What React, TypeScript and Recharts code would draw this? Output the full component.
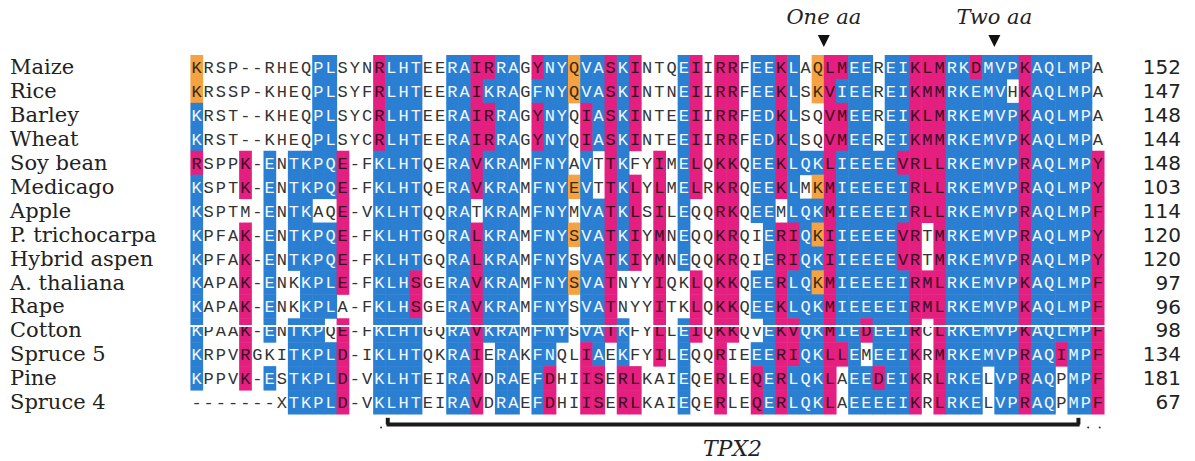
import { ScatterChart, Scatter, XAxis, YAxis, ReferenceLine, ReferenceDot } from 'recharts';

// alignment rows, top to bottom
const species = [
  'Maize', 'Rice', 'Barley', 'Wheat', 'Soy bean', 'Medicago', 'Apple', 'P. trichocarpa',
  'Hybrid aspen', 'A. thaliana', 'Rape', 'Cotton', 'Spruce 5', 'Pine', 'Spruce 4',
];

const lengths = [152, 147, 148, 144, 148, 103, 114, 120, 120, 97, 96, 98, 134, 181, 67];

// residues, 75 columns per row (written in blocks of ten)
const sequences = [
  ['KRSP--RHEQ', 'PLSYNRLHTE', 'ERAIRRAGYN', 'YQVASKINTQ', 'EIIRRFEEKL', 'AQLMEEREIK', 'LMRKDMVPKA', 'QLMPA'],
  ['KRSSP-KHEQ', 'PLSYFRLHTE', 'ERAIKRAGFN', 'YQVASKINTN', 'EIIRRFEEKL', 'SKVIEEREIK', 'MMRKEMVHKA', 'QLMPA'],
  ['KRST--KHEQ', 'PLSYCRLHTE', 'ERAIRRAGYN', 'YQIASKINTE', 'EIIRRFEDKL', 'SQVMEEREIK', 'LMRKEMVPKA', 'QLMPA'],
  ['KRST--KHEQ', 'PLSYCRLHTE', 'ERAIRRAGYN', 'YQIASKINTE', 'EIIRRFEDKL', 'SQVMEEREIK', 'MMRKEMVPKA', 'QLMPA'],
  ['RSPPK-ENTK', 'PQE-FKLHTQ', 'ERAVKRAMFN', 'YAVTTKFYIM', 'ELQKKQEEKL', 'QKLIEEEEVR', 'LLRKEMVPRA', 'QLMPY'],
  ['KSPTK-ENTK', 'PQE-FKLHTQ', 'ERAVKRAMFN', 'YEVTTKLYLM', 'ELRKRQEEKL', 'MKMIEEEEIR', 'LLRKEMVPRA', 'QLMPY'],
  ['KSPTM-ENTK', 'AQE-VKLHTQ', 'QRATKRAMFN', 'YMVATKLSIL', 'EQQRKQEEML', 'QKMIEEEEIR', 'LLRKEMVPRA', 'QLMPF'],
  ['KPFAK-ENTK', 'PQE-FKLHTG', 'QRALKRAMFN', 'YSVATKIYMN', 'EQQKRQIERI', 'QKIIEEEEVR', 'TMRKEMVPRA', 'QLMPY'],
  ['KPFAK-ENTK', 'PQE-FKLHTG', 'QRALKRAMFN', 'YSVATKIYMN', 'EQQKRQIERI', 'QKIIEEEEVR', 'TMRKEMVPRA', 'QLMPY'],
  ['KAPAK-ENKK', 'PLE-FKLHSG', 'ERAVKRAMFN', 'YSVATNYYIQ', 'KLQKKQEERL', 'QKMIEEEEIR', 'MLRKEMVPKA', 'QLMPF'],
  ['KAPAK-ENKK', 'PLA-FKLHSG', 'ERAVKRAMFN', 'YSVATNYYIT', 'KLQKKQEEKL', 'QKMIEEEEIR', 'MLRKEMVPKA', 'QLMPF'],
  ['KPAAK-ENTK', 'PQE-FKLHTG', 'QRAVKRAMFN', 'YSVATKFYLL', 'EIQKKQVEKV', 'QKMIEDEEIR', 'CLRKEMVPKA', 'QLMPF'],
  ['KRPVRGKITK', 'PLD-IKLHTQ', 'KRAIERAKFN', 'QLIAEKFYIL', 'EQQRIEEERI', 'QKLLEMEEIK', 'RMRKEMVPRA', 'QIMPF'],
  ['KPPVK-ESTK', 'PLD-VKLHTE', 'IRAVDRAEFD', 'HIISERLKAI', 'EQERLEQERL', 'QKLAEEDEIK', 'RLRKELVPRA', 'QPMPF'],
  ['-------XTK', 'PLD-VKLHTE', 'IRAVDRAEFD', 'HIISERLKAI', 'EQERLEQERL', 'QKLAEEEEIK', 'RLRKELVPRA', 'QPMPF'],
];

// shading per residue: b = blue, m = magenta, o = orange, w = none
const shading = [
  ['owwwwwwwww', 'bbwwwmbbbw', 'wbbmmbbwmb', 'bobbmbmwww', 'bmwmmwbbmb', 'wommbbwbbm', 'mmbbmbbbmb', 'bbbbw'],
  ['owwwwwwwww', 'bbwwwmbbbw', 'wbbmbbbwbb', 'bobbmbmwww', 'bmwmmwbbmb', 'wombbbwbbm', 'mmbbbbbwmb', 'bbbbw'],
  ['bwwwwwwwww', 'bbwwwmbbbw', 'wbbmmbbwmb', 'bwmbmbmwww', 'bmwmmwbbmb', 'wwmmbbwbbm', 'mmbbbbbbmb', 'bbbbw'],
  ['bwwwwwwwww', 'bbwwwmbbbw', 'wbbmmbbwmb', 'bwmbmbmwww', 'bmwmmwbbmb', 'wwmmbbwbbm', 'mmbbbbbbmb', 'bbbbw'],
  ['mwwwmwbwbb', 'bbmwwbbbbw', 'wbbmbbbwbb', 'bwbwmbwwmw', 'bmwmmwbbmb', 'bbmbbbbbmm', 'mmbbbbbbmb', 'bbbbm'],
  ['bwwwmwbwbb', 'bbmwwbbbbw', 'wbbmbbbwbb', 'bobwmbmwmw', 'bmwmmwbbmb', 'wombbbbbbm', 'mmbbbbbbmb', 'bbbbm'],
  ['bwwwwwbwbb', 'wwmwwbbbbw', 'wbbwbbbwbb', 'bwbbmbmwmw', 'bwwmmwbbwb', 'bbmbbbbbbm', 'mmbbbbbbmb', 'bbbbm'],
  ['bwwwmwbwbb', 'bbmwwbbbbw', 'wbbmbbbwbb', 'bobbmbmwmw', 'bwwmmwwbmm', 'bombbbbbmm', 'wmbbbbbbmb', 'bbbbm'],
  ['bwwwmwbwbb', 'bbmwwbbbbw', 'wbbmbbbwbb', 'bwbbmbmwmw', 'bwwmmwwbmm', 'bbmbbbbbmm', 'wmbbbbbbmb', 'bbbbm'],
  ['bwwwmwbwwb', 'bbmwwbbbmw', 'wbbmbbbwbb', 'bobbmwwwmw', 'wmwmmwbbmb', 'bombbbbbbm', 'mmbbbbbbmb', 'bbbbm'],
  ['bwwwmwbwwb', 'bbwwwbbbmw', 'wbbmbbbwbb', 'bwbbmwwwmw', 'wmwmmwbbmb', 'bbmbbbbbbm', 'mmbbbbbbmb', 'bbbbm'],
  ['bwwwmwbwbb', 'bwmwwbbbbw', 'wbbmbbbwbb', 'bwbbmbwwmw', 'bmwmmwwbmm', 'bbmbbmbbbm', 'wmbbbbbbmb', 'bbbbm'],
  ['bwwwmwwwbb', 'bbmwwbbbbw', 'wbbmwbbwbb', 'wwmbwbwwmw', 'bwwmwwbbmm', 'bbmmbwbbbm', 'wmbbbbbbmb', 'bmbbm'],
  ['bwwwmwbwbb', 'bbmwwbbbbw', 'wbbmwbbwbm', 'wwmmwmmwww', 'bwwmwwmbmb', 'bbmwbbmbbm', 'wmbbbwbbmb', 'bwbbm'],
  ['wwwwwwwwbb', 'bbmwwbbbbw', 'wbbmwbbwbm', 'wwmmwmmwww', 'bwwmwwmbmb', 'bbmwbbbbbm', 'wmbbbwbbmb', 'bwbbm'],
];

// insertion markers above the alignment (gap after column)
const insertions = [
  { label: 'One aa', after: 52 },
  { label: 'Two aa', after: 66 },
];

// bracketed domain under the alignment (first / last column)
const domainName = 'TPX2';
const domainStart = 17;
const domainEnd = 73;

// white scan streak crossing the Cotton row
const streak = [{ col: 0.3, row: 11.82 }];

const SHADES: Record<string, { fill: string | null; text: string }> = {
  b: { fill: '#2a7fd2', text: '#f2f7ff' },
  m: { fill: '#e41f80', text: '#3a0c22' },
  o: { fill: '#f5a243', text: '#3a2a10' },
  w: { fill: null, text: '#333333' },
};

const NCOL = 75;
const NROW = species.length;
const PLOT_LEFT = 188;
const PLOT_RIGHT = 1104;
const PLOT_TOP = 55;
const PLOT_BOTTOM = 414;
const CELL_W = (PLOT_RIGHT - PLOT_LEFT) / NCOL;
const CELL_H = (PLOT_BOTTOM - PLOT_TOP) / NROW;

const cells = sequences.flatMap((blocks, r) => {
  const seq = blocks.join('');
  const shade = shading[r].join('');
  return seq.split('').map((aa, c) => ({ col: c + 1, row: r + 1, aa, shade: shade[c] || 'w' }));
});

const rowTicks = species.map((_, i) => i + 1);

function Residue(props: any) {
  const { cx, cy, payload } = props;
  const s = SHADES[payload.shade];
  return (
    <g>
      {s.fill && (
        <rect x={cx - CELL_W / 2} y={cy - CELL_H / 2} width={CELL_W + 0.5} height={CELL_H + 0.5} fill={s.fill} />
      )}
      <text
        x={cx}
        y={cy}
        dy="0.36em"
        textAnchor="middle"
        fontFamily="'Liberation Mono', monospace"
        fontSize={17}
        fill={s.text}
      >
        {payload.aa}
      </text>
    </g>
  );
}

// species name on the left, sequence length on the right
function RowTick(props: any) {
  const { y, payload } = props;
  return (
    <g>
      <text x={10} y={y} dy="0.34em" fontFamily="'DejaVu Serif', serif" fontSize={21} fill="#222">
        {species[payload.value - 1]}
      </text>
      <text x={1181} y={y} dy="0.36em" textAnchor="end" fontFamily="'DejaVu Sans', sans-serif" fontSize={20} fill="#222">
        {lengths[payload.value - 1]}
      </text>
    </g>
  );
}

export default function App() {
  return (
    <div style={{ position: 'absolute', left: 0, top: 0, width: 1195, height: 461, background: '#fff' }}>
      <ScatterChart
        width={1195}
        height={461}
        margin={{ top: PLOT_TOP, right: 1195 - PLOT_RIGHT, bottom: 461 - PLOT_BOTTOM, left: 0 }}
      >
        <XAxis type="number" dataKey="col" domain={[0.5, NCOL + 0.5]} hide />
        <YAxis
          yAxisId="L"
          type="number"
          dataKey="row"
          domain={[0.5, NROW + 0.5]}
          reversed
          ticks={rowTicks}
          interval={0}
          width={PLOT_LEFT}
          axisLine={false}
          tickLine={false}
          tick={<RowTick />}
        />
        <Scatter yAxisId="L" data={cells} isAnimationActive={false} shape={(p: any) => <Residue {...p} />} />
        <Scatter
          yAxisId="L"
          data={streak}
          dataKey="row"
          isAnimationActive={false}
          shape={(p: any) => (
            <line x1={p.cx} y1={p.cy} x2={p.cx + 81.2 * CELL_W} y2={p.cy} stroke="#ffffff" strokeWidth={2} />
          )}
        />

        {insertions.map((m) => (
          <ReferenceDot
            key={m.label}
            yAxisId="L"
            x={m.after + 0.5}
            y={-0.09}
            ifOverflow="visible"
            shape={(p: any) => (
              <g>
                <path d={`M${p.cx - 6},${p.cy - 6} L${p.cx + 6},${p.cy - 6} L${p.cx},${p.cy + 6} Z`} fill="#111" />
                <text
                  x={p.cx}
                  y={p.cy - 24}
                  dy="0.35em"
                  textAnchor="middle"
                  fontFamily="'DejaVu Serif', serif"
                  fontStyle="italic"
                  fontSize={21}
                  fill="#222"
                >
                  {m.label}
                </text>
              </g>
            )}
          />
        ))}

        <ReferenceLine
          yAxisId="L"
          ifOverflow="visible"
          segment={[{ x: domainStart - 0.4, y: 15.94 }, { x: domainEnd + 0.5, y: 15.94 }]}
          stroke="#1a1a1a"
          strokeWidth={4}
        />
        <ReferenceLine
          yAxisId="L"
          ifOverflow="visible"
          segment={[{ x: domainStart - 0.3, y: 15.66 }, { x: domainStart - 0.3, y: 15.94 }]}
          stroke="#1a1a1a"
          strokeWidth={4}
        />
        <ReferenceLine
          yAxisId="L"
          ifOverflow="visible"
          segment={[{ x: domainEnd + 0.4, y: 15.66 }, { x: domainEnd + 0.4, y: 15.94 }]}
          stroke="#1a1a1a"
          strokeWidth={4}
        />
        {[domainStart - 0.85, domainEnd + 1.2, domainEnd + 2.15].map((x) => (
          <ReferenceDot key={x} yAxisId="L" x={x} y={16.06} r={1} fill="#333" stroke="none" ifOverflow="visible" />
        ))}
        <ReferenceDot
          yAxisId="L"
          x={(domainStart + domainEnd) / 2}
          y={16.92}
          ifOverflow="visible"
          shape={(p: any) => (
            <text
              x={p.cx}
              y={p.cy}
              dy="0.35em"
              textAnchor="middle"
              fontFamily="'DejaVu Serif', serif"
              fontStyle="italic"
              fontSize={22}
              fill="#222"
            >
              {domainName}
            </text>
          )}
        />
      </ScatterChart>
    </div>
  );
}
